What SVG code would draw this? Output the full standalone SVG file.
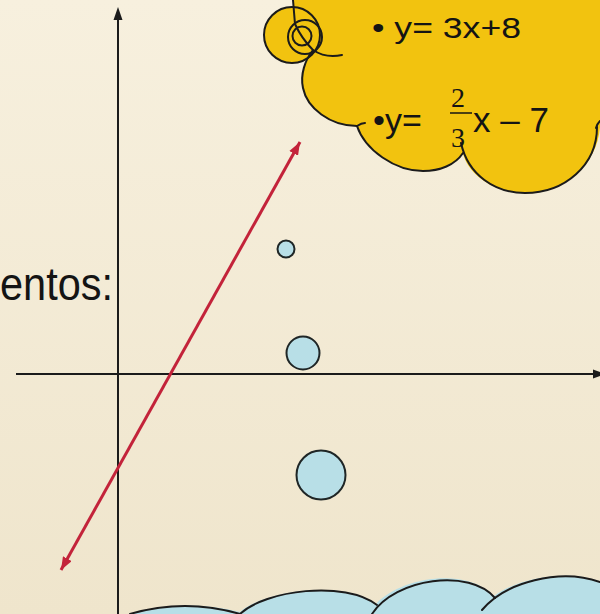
<svg xmlns="http://www.w3.org/2000/svg" width="600" height="614" viewBox="0 0 600 614">
<defs>
<linearGradient id="bg" x1="0" y1="0" x2="0" y2="1">
<stop offset="0" stop-color="#F7F0DE"/>
<stop offset="1" stop-color="#EFE5CC"/>
</linearGradient>
<marker id="redhead" markerUnits="userSpaceOnUse" markerWidth="14" markerHeight="10" refX="13" refY="5" orient="auto-start-reverse" viewBox="0 0 14 10">
<path d="M0,0 L13,5 L0,10 Z" fill="#C3233A"/>
</marker>
</defs>
<style>
.ink{fill:none;stroke:#1b1b1b;stroke-width:2;stroke-linecap:round}
.axis{stroke:#1b1b1b;stroke-width:2}
.dot{fill:#B8DFE7;stroke:#1f2626;stroke-width:2}
.sans{font-family:"Liberation Sans",Arial,sans-serif;fill:#141414}
.serif{font-family:"Liberation Serif","Times New Roman",serif;fill:#141414}
</style>
<rect width="600" height="614" fill="url(#bg)"/>

<g id="label-entos">
<text class="sans" x="0" y="300" font-size="47" textLength="113" lengthAdjust="spacingAndGlyphs">entos:</text>
</g>

<g id="axes">
<line class="axis" x1="118" y1="16" x2="118" y2="614"/>
<polygon points="118,7 113.5,20 122.5,20" fill="#1b1b1b"/>
<line class="axis" x1="16" y1="374" x2="596" y2="374"/>
<polygon points="593,369.5 606,374 593,378.5" fill="#1b1b1b"/>
</g>

<g id="connectors">
<line x1="61" y1="570" x2="300" y2="142" stroke="#C3233A" stroke-width="3" marker-start="url(#redhead)" marker-end="url(#redhead)"/>
</g>

<g id="point-small"><circle class="dot" cx="286" cy="249" r="8.5"/></g>
<g id="point-medium"><circle class="dot" cx="303" cy="353" r="16.5"/></g>
<g id="point-large"><circle class="dot" cx="321" cy="475" r="24.5"/></g>

<g id="yellow-cloud">
<path d="M293,0 L600,0 L600,127 C597,165 565,193 525,193 C495,193 468,175 463,153 C455,165 440,171 423,171 C395,171 365,150 357,126 C330,126 307,108 303,88 C300,75 305,60 313,50 C307,44 300,35 295,24 Z" fill="#F2C30F"/>
<circle cx="292" cy="35" r="28" fill="#F2C30F" stroke="#1b1b1b" stroke-width="2"/>
<circle class="ink" cx="305" cy="37" r="17"/>
<circle class="ink" cx="302" cy="36" r="9.5"/>
<path class="ink" d="M293,0 L295,24 C300,35 307,44 313,50 C322,56 333,57 342,55"/>
<path class="ink" d="M313,50 C305,60 300,75 303,88 C307,108 330,126 357,126 C360,124 363,123 365,123"/>
<path class="ink" d="M357,126 C365,150 395,171 423,171 C440,171 455,165 463,153"/>
<path class="ink" d="M461,143 C468,175 495,193 525,193 C565,193 597,165 597,127"/>
<path class="ink" d="M596,128 C597,124 599,122 600,121"/>
<text class="sans" x="372" y="38" font-size="29" textLength="149" lengthAdjust="spacingAndGlyphs">• y= 3x+8</text>
<text class="sans" x="373" y="132" font-size="34">•y=</text>
<text class="serif" x="451" y="107" font-size="28">2</text>
<line x1="450" y1="113" x2="472" y2="113" stroke="#141414" stroke-width="1.5"/>
<text class="serif" x="451" y="147" font-size="28">3</text>
<text class="sans" x="473" y="132" font-size="35">x – 7</text>
</g>

<g id="blue-cloud">
<path d="M130,614 Q185,598 240,612 C265,590 345,580 376,604 C400,578 465,566 494,596 C520,576 575,570 600,582 L600,614 Z" fill="#B8DFE7"/>
<path class="ink" d="M130,614 Q185,598 240,614"/>
<path class="ink" d="M240,614 C265,590 345,580 377,605"/>
<path class="ink" d="M372,614 C395,578 470,568 495,598"/>
<path class="ink" d="M482,610 C505,582 560,568 600,582"/>
</g>
</svg>
